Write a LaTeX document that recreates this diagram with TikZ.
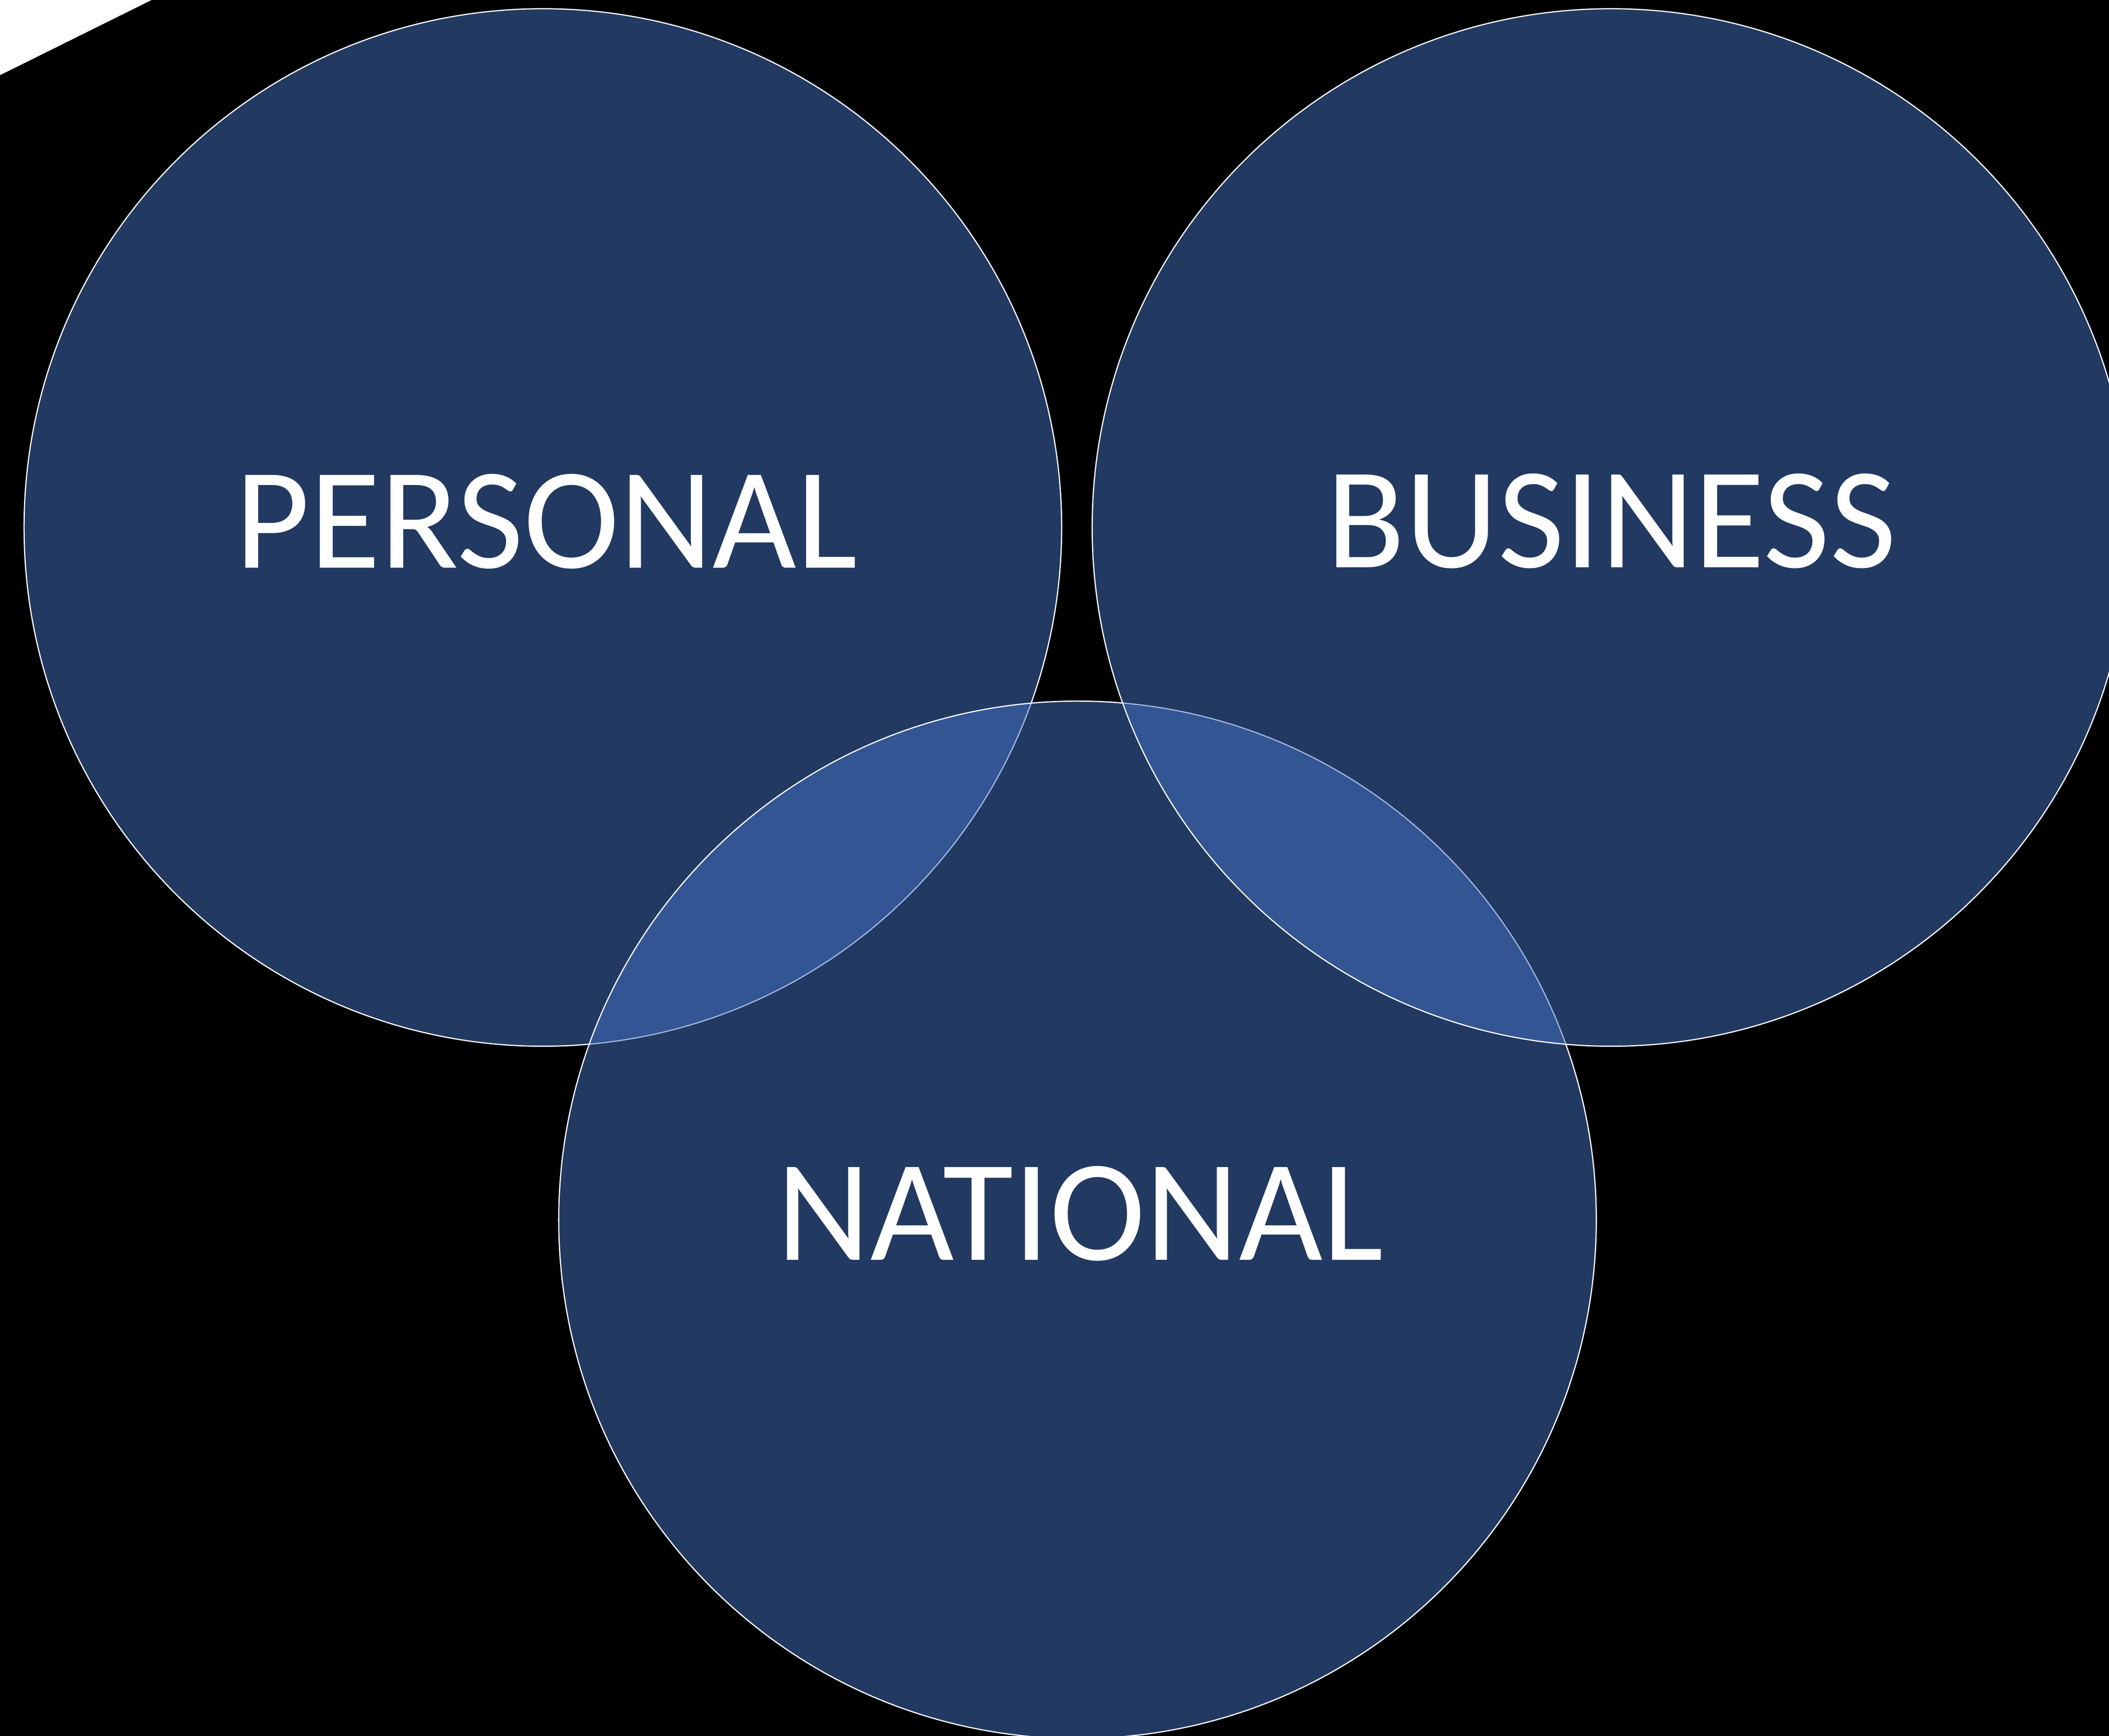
\documentclass[tikz,border=0pt]{standalone}
\usepackage{fontspec}
\setmainfont{Carlito}
\definecolor{vennblue}{HTML}{4472C4}
\tikzset{
  venn/.style={circle, minimum size=7.714cm, inner sep=0pt, outer sep=0pt,
    fill=vennblue, fill opacity=0.5, draw=white, draw opacity=1, line width=0.25pt},
  vennlabel/.style={text=white, inner sep=0pt, font=\fontsize{30.6}{31}\selectfont}
}
\begin{document}
\begin{tikzpicture}

% Page and background
\useasboundingbox (0,0) rectangle (15.68,12.907);
\clip (0,0) rectangle (15.68,12.907);
\fill[black] (0,0) rectangle (15.68,12.907);
\fill[white] (0,12.907) -- (1.127,12.907) -- (0,12.348) -- cycle;

% Circles
\node[venn] (personal) at (4.036,8.985) {};
\node[venn] (national) at (8.011,3.837) {};
\node[venn] (business) at (11.977,8.985) {};

% Labels
\node[vennlabel] (personaltext) at (4.06,9.03) {PERSONAL};
\node[vennlabel] (businesstext) at (11.98,9.032) {BUSINESS};
\node[vennlabel] (nationaltext) at (8.03,3.882) {NATIONAL};

\end{tikzpicture}
\end{document}
